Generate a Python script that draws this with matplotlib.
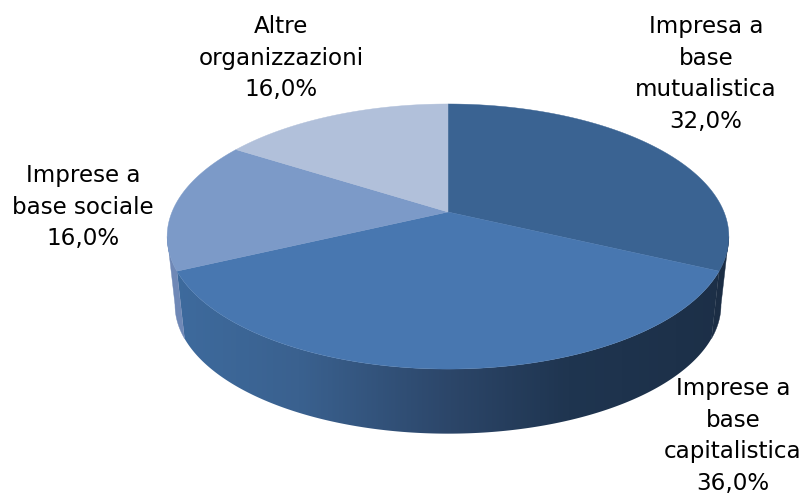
import numpy as np
import matplotlib
matplotlib.use('Agg')
import matplotlib.pyplot as plt
from matplotlib.colors import LinearSegmentedColormap
from matplotlib.patches import Polygon

labels = ['Impresa a\nbase\nmutualistica\n32,0%',
          'Imprese a\nbase\ncapitalistica\n36,0%',
          'Imprese a\nbase sociale\n16,0%',
          'Altre\norganizzazioni\n16,0%']
values = [32.0, 36.0, 16.0, 16.0]
top_colors = ['#3a6392', '#4877b0', '#7c9ac8', '#b1c0da']
label_x = [706, 733, 83, 281]
label_y = [74, 436, 207, 58]

cx, cy = 448, 212
b, a, k = 276, 128, 0.185  # perspective of the disc
bottom_scale = 0.972
bottom_cy = 281


def project(theta):
    # theta is clockwise from 12 o'clock
    u, v = np.sin(theta), np.cos(theta)
    w = 1 + k * v
    return cx + b * u / w, cy - a * v / w


def project_bottom(theta):
    x, y = project(theta)
    return cx + (x - cx) * bottom_scale, bottom_cy + (y - cy) * bottom_scale


def wall_poly(t0, t1):
    th = np.linspace(t0, t1, 300)
    xt, yt = project(th)
    xb, yb = project_bottom(th[::-1])
    return np.column_stack([np.r_[xt, xb], np.r_[yt, yb]])


fig = plt.figure(figsize=(8.05, 4.95), dpi=100)
ax = fig.add_axes([0, 0, 1, 1])
ax.set_xlim(0, 805)
ax.set_ylim(495, 0)
ax.axis('off')

edges = np.cumsum([0] + values) / sum(values) * 2 * np.pi
widest = np.arccos(-k)  # where the outline is widest on the right

# side wall, three visible pieces
wall_cmap = LinearSegmentedColormap.from_list(
    'wall', [(0.0, '#3e6b9e'), (0.23, '#3a618f'), (0.5, '#2c4669'),
             (0.71, '#1f3550'), (1.0, '#1c2f47')])
grad = np.linspace(0, 1, 512).reshape(1, -1)
front = Polygon(wall_poly(edges[1], edges[2]), closed=True, fc='none', ec='none',
                transform=ax.transData)
ax.add_patch(front)
im = ax.imshow(grad, cmap=wall_cmap, extent=(170, 730, 440, 240), aspect='auto', zorder=1)
im.set_clip_path(front)
ax.set_xlim(0, 805)
ax.set_ylim(495, 0)

ax.add_patch(Polygon(wall_poly(widest, edges[1]), closed=True, fc='#1b2d44', ec='#1b2d44',
                     lw=0.3, zorder=1))
ax.add_patch(Polygon(wall_poly(edges[2], 2 * np.pi - widest), closed=True, fc='#6f88b6',
                     ec='#6f88b6', lw=0.3, zorder=1))

# top faces
for i in range(len(values)):
    th = np.linspace(edges[i], edges[i + 1], 200)
    xs, ys = project(th)
    pts = [(cx, cy)] + list(zip(xs, ys))
    ax.add_patch(Polygon(pts, closed=True, fc=top_colors[i], ec=top_colors[i],
                         lw=0.3, zorder=2))

for i in range(len(labels)):
    ax.text(label_x[i], label_y[i], labels[i], ha='center', va='center', fontsize=16.6,
            family='DejaVu Sans', color='black', linespacing=1.47, zorder=3)

fig.savefig('out.png', dpi=100)
